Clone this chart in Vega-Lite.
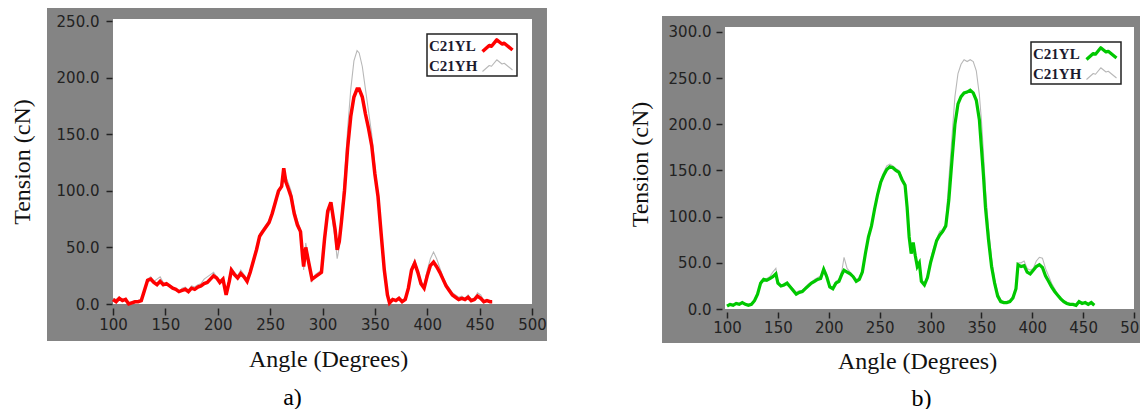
{
  "$schema": "https://vega.github.io/schema/vega-lite/v6.json",
  "background": "white",
  "padding": {"left": 10, "top": 8, "right": 0, "bottom": 0},
  "spacing": 81,
  "datasets": {
    "curvesA": [
      {"angle": 100, "C21YL": 4, "C21YH": 5}, {"angle": 103, "C21YL": 2, "C21YH": 4}, {"angle": 106, "C21YL": 5, "C21YH": 6},
      {"angle": 109, "C21YL": 3, "C21YH": 4}, {"angle": 112, "C21YL": 4, "C21YH": 5}, {"angle": 115, "C21YL": 0, "C21YH": 1},
      {"angle": 118, "C21YL": 1, "C21YH": 2}, {"angle": 121, "C21YL": 2, "C21YH": 3}, {"angle": 124, "C21YL": 2, "C21YH": 3},
      {"angle": 127, "C21YL": 3, "C21YH": 4}, {"angle": 130, "C21YL": 12, "C21YH": 13}, {"angle": 133, "C21YL": 21, "C21YH": 22},
      {"angle": 136, "C21YL": 22, "C21YH": 24}, {"angle": 139, "C21YL": 19, "C21YH": 20}, {"angle": 142, "C21YL": 17, "C21YH": 22},
      {"angle": 145, "C21YL": 20, "C21YH": 24}, {"angle": 148, "C21YL": 17, "C21YH": 19}, {"angle": 151, "C21YL": 18, "C21YH": 18},
      {"angle": 154, "C21YL": 16, "C21YH": 17}, {"angle": 157, "C21YL": 14, "C21YH": 15}, {"angle": 160, "C21YL": 13, "C21YH": 12},
      {"angle": 163, "C21YL": 11, "C21YH": 11}, {"angle": 166, "C21YL": 12, "C21YH": 14}, {"angle": 169, "C21YL": 13, "C21YH": 15},
      {"angle": 172, "C21YL": 11, "C21YH": 12}, {"angle": 175, "C21YL": 14, "C21YH": 16}, {"angle": 178, "C21YL": 13, "C21YH": 15},
      {"angle": 181, "C21YL": 15, "C21YH": 17}, {"angle": 184, "C21YL": 16, "C21YH": 18}, {"angle": 187, "C21YL": 18, "C21YH": 22},
      {"angle": 190, "C21YL": 19, "C21YH": 24}, {"angle": 193, "C21YL": 22, "C21YH": 26}, {"angle": 196, "C21YL": 25, "C21YH": 28},
      {"angle": 199, "C21YL": 23, "C21YH": 24}, {"angle": 202, "C21YL": 19, "C21YH": 18}, {"angle": 205, "C21YL": 22, "C21YH": 20},
      {"angle": 208, "C21YL": 8, "C21YH": 10}, {"angle": 211, "C21YL": 20, "C21YH": 24}, {"angle": 213, "C21YL": 30, "C21YH": 32},
      {"angle": 216, "C21YL": 26, "C21YH": 28}, {"angle": 219, "C21YL": 23, "C21YH": 25}, {"angle": 222, "C21YL": 27, "C21YH": 30},
      {"angle": 225, "C21YL": 24, "C21YH": 26}, {"angle": 228, "C21YL": 20, "C21YH": 22}, {"angle": 231, "C21YL": 28, "C21YH": 30},
      {"angle": 234, "C21YL": 38, "C21YH": 40}, {"angle": 237, "C21YL": 48, "C21YH": 50}, {"angle": 240, "C21YL": 60, "C21YH": 62},
      {"angle": 243, "C21YL": 64, "C21YH": 66}, {"angle": 246, "C21YL": 68, "C21YH": 70}, {"angle": 249, "C21YL": 72, "C21YH": 74},
      {"angle": 252, "C21YL": 80, "C21YH": 82}, {"angle": 255, "C21YL": 90, "C21YH": 92}, {"angle": 258, "C21YL": 100, "C21YH": 96},
      {"angle": 261, "C21YL": 104, "C21YH": 106}, {"angle": 263, "C21YL": 120, "C21YH": 118}, {"angle": 265, "C21YL": 108, "C21YH": 112},
      {"angle": 267, "C21YL": 103, "C21YH": 108}, {"angle": 270, "C21YL": 95, "C21YH": 100}, {"angle": 273, "C21YL": 80, "C21YH": 84},
      {"angle": 276, "C21YL": 70, "C21YH": 74}, {"angle": 279, "C21YL": 64, "C21YH": 66}, {"angle": 281, "C21YL": 42, "C21YH": 48},
      {"angle": 282, "C21YL": 33, "C21YH": 30}, {"angle": 284, "C21YL": 50, "C21YH": 54}, {"angle": 287, "C21YL": 36, "C21YH": 38},
      {"angle": 290, "C21YL": 22, "C21YH": 20}, {"angle": 293, "C21YL": 24, "C21YH": 26}, {"angle": 296, "C21YL": 26, "C21YH": 28},
      {"angle": 299, "C21YL": 28, "C21YH": 30}, {"angle": 302, "C21YL": 58, "C21YH": 60}, {"angle": 305, "C21YL": 82, "C21YH": 78},
      {"angle": 308, "C21YL": 90, "C21YH": 86}, {"angle": 310, "C21YL": 78, "C21YH": 70}, {"angle": 312, "C21YL": 66, "C21YH": 58},
      {"angle": 314, "C21YL": 48, "C21YH": 40}, {"angle": 316, "C21YL": 55, "C21YH": 50}, {"angle": 318, "C21YL": 72, "C21YH": 78},
      {"angle": 321, "C21YL": 100, "C21YH": 112}, {"angle": 324, "C21YL": 138, "C21YH": 155}, {"angle": 327, "C21YL": 166, "C21YH": 190},
      {"angle": 330, "C21YL": 183, "C21YH": 215}, {"angle": 333, "C21YL": 190, "C21YH": 224}, {"angle": 335, "C21YL": 190, "C21YH": 222},
      {"angle": 338, "C21YL": 183, "C21YH": 210}, {"angle": 341, "C21YL": 168, "C21YH": 190}, {"angle": 344, "C21YL": 155, "C21YH": 170},
      {"angle": 347, "C21YL": 140, "C21YH": 150}, {"angle": 350, "C21YL": 115, "C21YH": 122}, {"angle": 353, "C21YL": 95, "C21YH": 98},
      {"angle": 356, "C21YL": 62, "C21YH": 64}, {"angle": 359, "C21YL": 30, "C21YH": 32}, {"angle": 362, "C21YL": 8, "C21YH": 10},
      {"angle": 364, "C21YL": 1, "C21YH": 2}, {"angle": 367, "C21YL": 4, "C21YH": 5}, {"angle": 370, "C21YL": 3, "C21YH": 4},
      {"angle": 373, "C21YL": 5, "C21YH": 6}, {"angle": 376, "C21YL": 2, "C21YH": 3}, {"angle": 379, "C21YL": 4, "C21YH": 5},
      {"angle": 382, "C21YL": 14, "C21YH": 16}, {"angle": 385, "C21YL": 30, "C21YH": 32}, {"angle": 388, "C21YL": 36, "C21YH": 39},
      {"angle": 391, "C21YL": 28, "C21YH": 30}, {"angle": 394, "C21YL": 18, "C21YH": 20}, {"angle": 397, "C21YL": 14, "C21YH": 17},
      {"angle": 400, "C21YL": 25, "C21YH": 30}, {"angle": 403, "C21YL": 34, "C21YH": 40}, {"angle": 406, "C21YL": 37, "C21YH": 46},
      {"angle": 409, "C21YL": 33, "C21YH": 40}, {"angle": 412, "C21YL": 28, "C21YH": 32}, {"angle": 415, "C21YL": 22, "C21YH": 24},
      {"angle": 418, "C21YL": 16, "C21YH": 18}, {"angle": 421, "C21YL": 12, "C21YH": 14}, {"angle": 424, "C21YL": 8, "C21YH": 10},
      {"angle": 427, "C21YL": 6, "C21YH": 8}, {"angle": 430, "C21YL": 4, "C21YH": 6}, {"angle": 433, "C21YL": 5, "C21YH": 7},
      {"angle": 436, "C21YL": 4, "C21YH": 5}, {"angle": 439, "C21YL": 6, "C21YH": 8}, {"angle": 442, "C21YL": 3, "C21YH": 4},
      {"angle": 445, "C21YL": 4, "C21YH": 5}, {"angle": 448, "C21YL": 7, "C21YH": 10}, {"angle": 451, "C21YL": 5, "C21YH": 8},
      {"angle": 454, "C21YL": 2, "C21YH": 3}, {"angle": 457, "C21YL": 3, "C21YH": 3}, {"angle": 460, "C21YL": 2, "C21YH": 2},
      {"angle": 462, "C21YL": 2, "C21YH": 2}
    ],
    "curvesB": [
      {"angle": 100, "C21YL": 3, "C21YH": 4}, {"angle": 103, "C21YL": 5, "C21YH": 6}, {"angle": 106, "C21YL": 4, "C21YH": 5},
      {"angle": 109, "C21YL": 6, "C21YH": 7}, {"angle": 112, "C21YL": 5, "C21YH": 6}, {"angle": 115, "C21YL": 7, "C21YH": 7},
      {"angle": 118, "C21YL": 5, "C21YH": 6}, {"angle": 121, "C21YL": 4, "C21YH": 5}, {"angle": 124, "C21YL": 5, "C21YH": 6},
      {"angle": 127, "C21YL": 9, "C21YH": 10}, {"angle": 130, "C21YL": 16, "C21YH": 17}, {"angle": 133, "C21YL": 28, "C21YH": 30},
      {"angle": 136, "C21YL": 32, "C21YH": 33}, {"angle": 139, "C21YL": 31, "C21YH": 33}, {"angle": 142, "C21YL": 33, "C21YH": 35},
      {"angle": 145, "C21YL": 35, "C21YH": 40}, {"angle": 148, "C21YL": 38, "C21YH": 44}, {"angle": 150, "C21YL": 28, "C21YH": 30},
      {"angle": 153, "C21YL": 25, "C21YH": 26}, {"angle": 156, "C21YL": 26, "C21YH": 27}, {"angle": 159, "C21YL": 28, "C21YH": 28},
      {"angle": 162, "C21YL": 24, "C21YH": 25}, {"angle": 165, "C21YL": 20, "C21YH": 22}, {"angle": 168, "C21YL": 16, "C21YH": 18},
      {"angle": 171, "C21YL": 18, "C21YH": 20}, {"angle": 174, "C21YL": 19, "C21YH": 20}, {"angle": 177, "C21YL": 22, "C21YH": 24},
      {"angle": 180, "C21YL": 25, "C21YH": 27}, {"angle": 183, "C21YL": 28, "C21YH": 29}, {"angle": 186, "C21YL": 30, "C21YH": 32},
      {"angle": 189, "C21YL": 32, "C21YH": 34}, {"angle": 192, "C21YL": 33, "C21YH": 36}, {"angle": 195, "C21YL": 43, "C21YH": 45},
      {"angle": 198, "C21YL": 35, "C21YH": 38}, {"angle": 201, "C21YL": 24, "C21YH": 25}, {"angle": 204, "C21YL": 22, "C21YH": 24},
      {"angle": 207, "C21YL": 28, "C21YH": 30}, {"angle": 210, "C21YL": 30, "C21YH": 32}, {"angle": 213, "C21YL": 38, "C21YH": 42},
      {"angle": 215, "C21YL": 42, "C21YH": 56}, {"angle": 218, "C21YL": 40, "C21YH": 44}, {"angle": 221, "C21YL": 38, "C21YH": 40},
      {"angle": 224, "C21YL": 35, "C21YH": 36}, {"angle": 227, "C21YL": 30, "C21YH": 32}, {"angle": 230, "C21YL": 32, "C21YH": 33},
      {"angle": 233, "C21YL": 40, "C21YH": 42}, {"angle": 236, "C21YL": 60, "C21YH": 62}, {"angle": 239, "C21YL": 78, "C21YH": 80},
      {"angle": 242, "C21YL": 90, "C21YH": 92}, {"angle": 245, "C21YL": 108, "C21YH": 110}, {"angle": 248, "C21YL": 124, "C21YH": 126},
      {"angle": 251, "C21YL": 137, "C21YH": 140}, {"angle": 254, "C21YL": 145, "C21YH": 148}, {"angle": 257, "C21YL": 151, "C21YH": 155},
      {"angle": 260, "C21YL": 154, "C21YH": 157}, {"angle": 263, "C21YL": 153, "C21YH": 155}, {"angle": 266, "C21YL": 150, "C21YH": 152},
      {"angle": 269, "C21YL": 148, "C21YH": 150}, {"angle": 272, "C21YL": 140, "C21YH": 142}, {"angle": 275, "C21YL": 134, "C21YH": 136},
      {"angle": 277, "C21YL": 110, "C21YH": 112}, {"angle": 279, "C21YL": 78, "C21YH": 80}, {"angle": 281, "C21YL": 60, "C21YH": 64},
      {"angle": 283, "C21YL": 72, "C21YH": 70}, {"angle": 285, "C21YL": 58, "C21YH": 60}, {"angle": 287, "C21YL": 46, "C21YH": 48},
      {"angle": 289, "C21YL": 50, "C21YH": 50}, {"angle": 291, "C21YL": 30, "C21YH": 32}, {"angle": 294, "C21YL": 26, "C21YH": 28},
      {"angle": 297, "C21YL": 34, "C21YH": 36}, {"angle": 300, "C21YL": 50, "C21YH": 54}, {"angle": 303, "C21YL": 62, "C21YH": 66},
      {"angle": 306, "C21YL": 74, "C21YH": 76}, {"angle": 309, "C21YL": 80, "C21YH": 84}, {"angle": 312, "C21YL": 84, "C21YH": 86},
      {"angle": 315, "C21YL": 90, "C21YH": 92}, {"angle": 318, "C21YL": 118, "C21YH": 140}, {"angle": 321, "C21YL": 160, "C21YH": 185},
      {"angle": 324, "C21YL": 200, "C21YH": 230}, {"angle": 327, "C21YL": 222, "C21YH": 255}, {"angle": 330, "C21YL": 230, "C21YH": 265},
      {"angle": 333, "C21YL": 234, "C21YH": 270}, {"angle": 336, "C21YL": 235, "C21YH": 268}, {"angle": 339, "C21YL": 237, "C21YH": 270},
      {"angle": 342, "C21YL": 234, "C21YH": 268}, {"angle": 345, "C21YL": 226, "C21YH": 258}, {"angle": 348, "C21YL": 205, "C21YH": 232},
      {"angle": 350, "C21YL": 175, "C21YH": 205}, {"angle": 352, "C21YL": 145, "C21YH": 170}, {"angle": 354, "C21YL": 110, "C21YH": 130},
      {"angle": 357, "C21YL": 75, "C21YH": 88}, {"angle": 360, "C21YL": 46, "C21YH": 55}, {"angle": 363, "C21YL": 28, "C21YH": 32},
      {"angle": 366, "C21YL": 14, "C21YH": 18}, {"angle": 369, "C21YL": 8, "C21YH": 10}, {"angle": 372, "C21YL": 7, "C21YH": 8},
      {"angle": 375, "C21YL": 7, "C21YH": 8}, {"angle": 378, "C21YL": 8, "C21YH": 9}, {"angle": 381, "C21YL": 12, "C21YH": 14},
      {"angle": 384, "C21YL": 22, "C21YH": 24}, {"angle": 386, "C21YL": 48, "C21YH": 50}, {"angle": 389, "C21YL": 46, "C21YH": 50},
      {"angle": 392, "C21YL": 47, "C21YH": 52}, {"angle": 395, "C21YL": 40, "C21YH": 44}, {"angle": 398, "C21YL": 38, "C21YH": 42},
      {"angle": 401, "C21YL": 42, "C21YH": 44}, {"angle": 404, "C21YL": 46, "C21YH": 52}, {"angle": 407, "C21YL": 48, "C21YH": 56},
      {"angle": 410, "C21YL": 45, "C21YH": 55}, {"angle": 413, "C21YL": 36, "C21YH": 44}, {"angle": 416, "C21YL": 30, "C21YH": 36},
      {"angle": 419, "C21YL": 24, "C21YH": 28}, {"angle": 422, "C21YL": 19, "C21YH": 22}, {"angle": 425, "C21YL": 15, "C21YH": 16},
      {"angle": 428, "C21YL": 11, "C21YH": 12}, {"angle": 431, "C21YL": 8, "C21YH": 9}, {"angle": 434, "C21YL": 6, "C21YH": 7},
      {"angle": 437, "C21YL": 5, "C21YH": 6}, {"angle": 440, "C21YL": 5, "C21YH": 5}, {"angle": 443, "C21YL": 4, "C21YH": 5},
      {"angle": 446, "C21YL": 8, "C21YH": 8}, {"angle": 449, "C21YL": 6, "C21YH": 7}, {"angle": 452, "C21YL": 7, "C21YH": 7},
      {"angle": 455, "C21YL": 5, "C21YH": 6}, {"angle": 458, "C21YL": 7, "C21YH": 7}, {"angle": 461, "C21YL": 4, "C21YH": 4}
    ]
  },
  "hconcat": [
    {
      "width": 419,
      "height": 285,
      "title": {"text": "a)", "orient": "bottom", "anchor": "middle", "dx": -30, "offset": 15},
      "layer": [
        {
          "data": {"values": [{}]},
          "mark": {"type": "rect", "color": "#848484"},
          "encoding": {
            "x": {"datum": 37, "type": "quantitative", "scale": {"domain": [100, 500], "nice": false, "zero": false},
                  "axis": {"values": [100, 150, 200, 250, 300, 350, 400, 450, 500], "format": "d", "offset": 4, "tickSize": 7, "labelPadding": 2, "title": "Angle (Degrees)", "titlePadding": 15, "titleX": 215, "zindex": 1}},
            "x2": {"datum": 514.3},
            "y": {"datum": -32.7, "type": "quantitative", "scale": {"domain": [0, 252], "nice": false, "zero": false},
                  "axis": {"values": [0, 50, 100, 150, 200, 250], "format": ".1f", "offset": 1, "tickSize": 6, "labelPadding": 7, "title": "Tension (cN)", "titlePadding": 22, "zindex": 1}},
            "y2": {"datum": 261.7}
          }
        },
        {
          "data": {"values": [{}]},
          "mark": {"type": "rect", "color": "white"},
          "encoding": {
            "x": {"datum": 100, "type": "quantitative", "scale": {"domain": [100, 500], "nice": false, "zero": false},
                  "axis": {"values": [100, 150, 200, 250, 300, 350, 400, 450, 500], "format": "d", "offset": 4, "tickSize": 7, "labelPadding": 2, "title": "Angle (Degrees)", "titlePadding": 15, "titleX": 215, "zindex": 1}},
            "x2": {"datum": 500},
            "y": {"datum": 0, "type": "quantitative", "scale": {"domain": [0, 252], "nice": false, "zero": false},
                  "axis": {"values": [0, 50, 100, 150, 200, 250], "format": ".1f", "offset": 1, "tickSize": 6, "labelPadding": 7, "title": "Tension (cN)", "titlePadding": 22, "zindex": 1}},
            "y2": {"datum": 252}
          }
        },
        {
          "data": {"name": "curvesA"},
          "transform": [{"fold": ["C21YH", "C21YL"], "as": ["series", "tension"]}],
          "mark": {"type": "line", "strokeJoin": "miter"},
          "encoding": {
            "x": {"field": "angle", "type": "quantitative", "scale": {"domain": [100, 500], "nice": false, "zero": false},
                  "axis": {"values": [100, 150, 200, 250, 300, 350, 400, 450, 500], "format": "d", "offset": 4, "tickSize": 7, "labelPadding": 2, "title": "Angle (Degrees)", "titlePadding": 15, "titleX": 215, "zindex": 1}},
            "y": {"field": "tension", "type": "quantitative", "scale": {"domain": [0, 252], "nice": false, "zero": false},
                  "axis": {"values": [0, 50, 100, 150, 200, 250], "format": ".1f", "offset": 1, "tickSize": 6, "labelPadding": 7, "title": "Tension (cN)", "titlePadding": 22, "zindex": 1}},
            "color": {"field": "series", "type": "nominal", "scale": {"domain": ["C21YL", "C21YH"], "range": ["#ff0000", "#b8b8b8"]},
                      "legend": {"title": null, "orient": "none", "legendX": 314, "legendY": 15, "encode": {"symbols": {"update": {"strokeJoin": {"value": "round"}}}}}},
            "strokeWidth": {"field": "series", "type": "nominal", "scale": {"domain": ["C21YL", "C21YH"], "range": [3.5, 1.1]},
                      "legend": {"title": null, "orient": "none", "legendX": 314, "legendY": 15, "encode": {"symbols": {"update": {"strokeJoin": {"value": "round"}}}}}}
          }
        }
      ]
    },
    {
      "width": 409,
      "height": 290,
      "title": {"text": "b)", "orient": "bottom", "anchor": "middle", "dx": -8, "offset": 14},
      "layer": [
        {
          "data": {"values": [{}]},
          "mark": {"type": "rect", "color": "#848484"},
          "encoding": {
            "x": {"datum": 36.1, "type": "quantitative", "scale": {"domain": [98, 500], "nice": false, "zero": false},
                  "axis": {"values": [100, 150, 200, 250, 300, 350, 400, 450, 500], "format": "d", "offset": 3, "tickSize": 6, "labelPadding": 2, "title": "Angle (Degrees)", "titlePadding": 14, "titleX": 192, "zindex": 1}},
            "x2": {"datum": 515},
            "y": {"datum": -36.8, "type": "quantitative", "scale": {"domain": [0, 314.05], "nice": false, "zero": false},
                  "axis": {"values": [0, 50, 100, 150, 200, 250, 300], "format": ".1f", "offset": 3, "tickSize": 6, "labelPadding": 5, "title": "Tension (cN)", "titlePadding": 16, "zindex": 1}},
            "y2": {"datum": 317.3}
          }
        },
        {
          "data": {"values": [{}]},
          "mark": {"type": "rect", "color": "white"},
          "encoding": {
            "x": {"datum": 98, "type": "quantitative", "scale": {"domain": [98, 500], "nice": false, "zero": false},
                  "axis": {"values": [100, 150, 200, 250, 300, 350, 400, 450, 500], "format": "d", "offset": 3, "tickSize": 6, "labelPadding": 2, "title": "Angle (Degrees)", "titlePadding": 14, "titleX": 192, "zindex": 1}},
            "x2": {"datum": 500},
            "y": {"datum": 0, "type": "quantitative", "scale": {"domain": [0, 314.05], "nice": false, "zero": false},
                  "axis": {"values": [0, 50, 100, 150, 200, 250, 300], "format": ".1f", "offset": 3, "tickSize": 6, "labelPadding": 5, "title": "Tension (cN)", "titlePadding": 16, "zindex": 1}},
            "y2": {"datum": 305.4}
          }
        },
        {
          "data": {"name": "curvesB"},
          "transform": [{"fold": ["C21YH", "C21YL"], "as": ["series", "tension"]}],
          "mark": {"type": "line", "strokeJoin": "miter"},
          "encoding": {
            "x": {"field": "angle", "type": "quantitative", "scale": {"domain": [98, 500], "nice": false, "zero": false},
                  "axis": {"values": [100, 150, 200, 250, 300, 350, 400, 450, 500], "format": "d", "offset": 3, "tickSize": 6, "labelPadding": 2, "title": "Angle (Degrees)", "titlePadding": 14, "titleX": 192, "zindex": 1}},
            "y": {"field": "tension", "type": "quantitative", "scale": {"domain": [0, 314.05], "nice": false, "zero": false},
                  "axis": {"values": [0, 50, 100, 150, 200, 250, 300], "format": ".1f", "offset": 3, "tickSize": 6, "labelPadding": 5, "title": "Tension (cN)", "titlePadding": 16, "zindex": 1}},
            "color": {"field": "series", "type": "nominal", "scale": {"domain": ["C21YL", "C21YH"], "range": ["#00c800", "#b8b8b8"]},
                      "legend": {"title": null, "orient": "none", "legendX": 306, "legendY": 23, "encode": {"symbols": {"update": {"strokeJoin": {"value": "round"}}}}}},
            "strokeWidth": {"field": "series", "type": "nominal", "scale": {"domain": ["C21YL", "C21YH"], "range": [3.2, 1.1]},
                      "legend": {"title": null, "orient": "none", "legendX": 306, "legendY": 23, "encode": {"symbols": {"update": {"strokeJoin": {"value": "round"}}}}}}
          }
        }
      ]
    }
  ],
  "resolve": {"scale": {"color": "independent", "strokeWidth": "independent"}, "legend": {"color": "independent", "strokeWidth": "independent"}},
  "config": {
    "view": {"stroke": null},
    "axis": {
      "domain": false,
      "grid": false,
      "tickColor": "#222222",
      "tickWidth": 1.5,
      "labelFont": "DejaVu Sans",
      "labelFontSize": 15,
      "labelColor": "#222222",
      "labelFlush": false,
      "labelOverlap": false,
      "titleFont": "Liberation Serif",
      "titleFontSize": 24,
      "titleFontWeight": "normal",
      "titleColor": "#111111"
    },
    "legend": {
      "fillColor": "white",
      "strokeColor": "#222222",
      "strokeWidth": 1.5,
      "padding": 2,
      "labelFont": "Liberation Serif",
      "labelFontWeight": "bold",
      "labelFontSize": 15,
      "labelColor": "#1a1a2e",
      "symbolType": "M-2,0.8L-1.1,0L-0.8,0.1L-0.1,-0.76L0.6,-0.2L0.9,-0.3L2,0.6",
      "symbolSize": 225,
      "labelOffset": -78,
      "symbolOffset": 59,
      "rowPadding": 3
    },
    "title": {
      "font": "Liberation Serif",
      "fontSize": 24,
      "fontWeight": "normal",
      "color": "#000000"
    }
  }
}
